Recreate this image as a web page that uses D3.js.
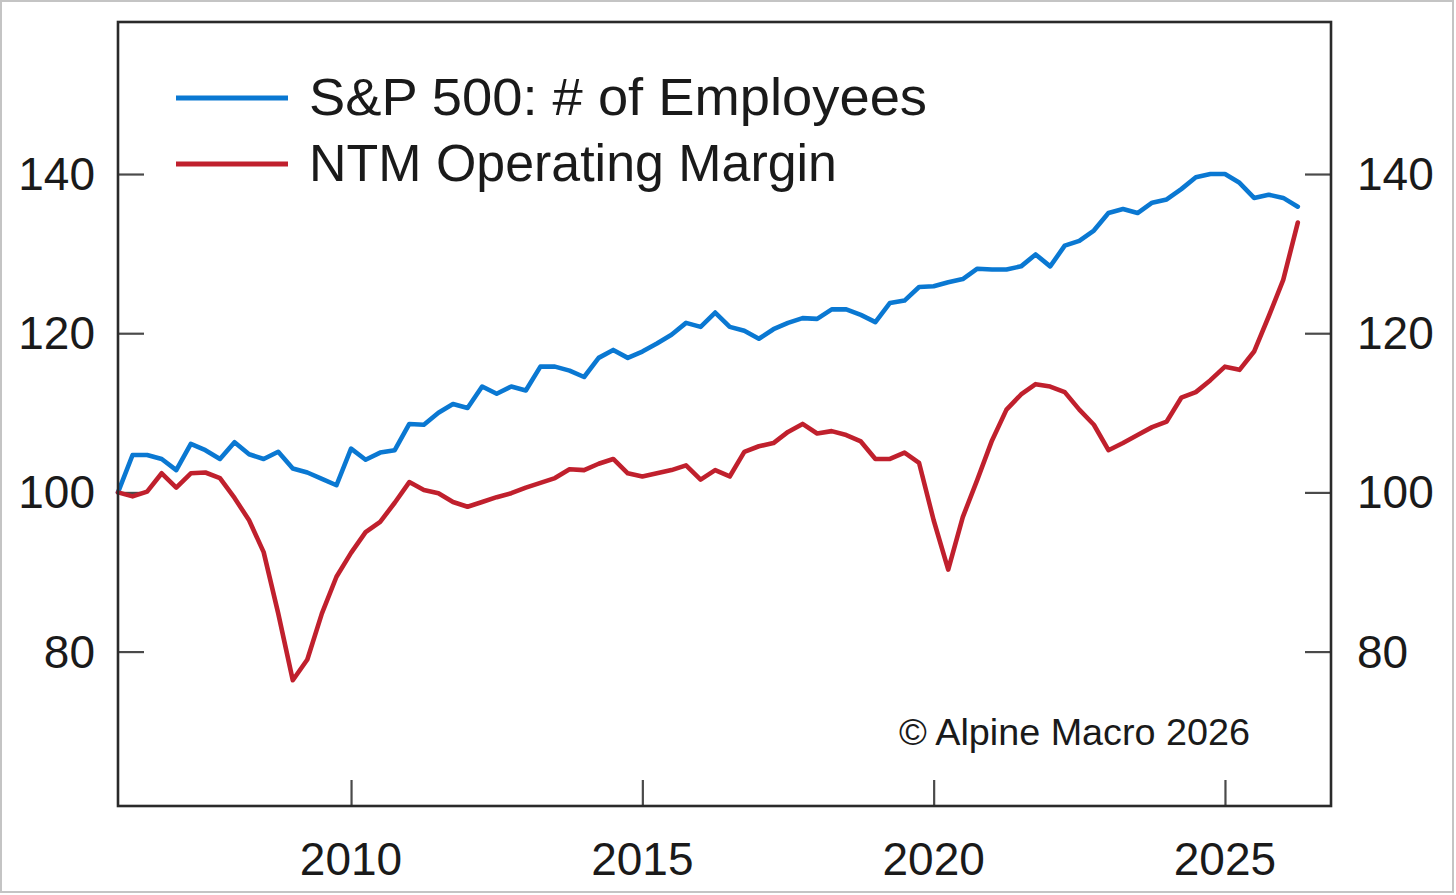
<!DOCTYPE html>
<html>
<head>
<meta charset="utf-8">
<script src="https://cdn.jsdelivr.net/npm/d3@7"></script>
<style>
  html, body { margin: 0; padding: 0; background: #fff; }
  svg { display: block; font-family: "Liberation Sans", Arial, sans-serif; }
</style>
</head>
<body>
<svg id="chart" width="1456" height="895"></svg>
<script>
// ---- Data (quarterly, first quarter of 2006 = 100) ----
const startYear = 2006;
const employees = [
  100, 104.7, 104.7, 104.2,
  102.8, 106.1, 105.3, 104.2,
  106.3, 104.8, 104.2, 105.1,
  103.0, 102.5, 101.7, 100.9,
  105.5, 104.1, 105.0, 105.3,
  108.6, 108.5, 110.0, 111.1,
  110.6, 113.3, 112.4, 113.3,
  112.8, 115.8, 115.8, 115.3,
  114.5, 116.9, 117.9, 116.9,
  117.7, 118.7, 119.8, 121.3,
  120.8, 122.6, 120.8, 120.3,
  119.3, 120.5, 121.3, 121.9,
  121.8, 123.0, 123.0, 122.3,
  121.4, 123.8, 124.1, 125.8,
  125.9, 126.4, 126.8, 128.1,
  128.0, 128.0, 128.4, 129.9,
  128.4, 131.0, 131.6, 132.9,
  135.1, 135.6, 135.1, 136.4,
  136.8, 138.1, 139.6, 140.0,
  140.0, 138.9, 137.0, 137.4,
  137.0, 135.9
];
const margin = [
  100, 99.5, 100.1, 102.4,
  100.6, 102.4, 102.5, 101.8,
  99.3, 96.5, 92.5, 84.8,
  76.4, 79.0, 84.8, 89.4,
  92.4, 95.0, 96.3, 98.7,
  101.3, 100.3, 99.9, 98.8,
  98.2, 98.8, 99.4, 99.9,
  100.6, 101.2, 101.8, 102.9,
  102.8, 103.6, 104.2, 102.4,
  102.0, 102.4, 102.8, 103.4,
  101.6, 102.8, 102.0, 105.1,
  105.8, 106.2, 107.6, 108.6,
  107.4, 107.7, 107.2, 106.4,
  104.2, 104.2, 105.0, 103.7,
  96.5, 90.3, 96.9, 101.6,
  106.5, 110.4, 112.3, 113.6,
  113.3, 112.6, 110.4, 108.5,
  105.3, 106.2, 107.2, 108.2,
  108.9, 111.9, 112.6, 114.1,
  115.8, 115.4, 117.7, 122.1,
  126.7, 133.9
];
const seriesNames = ["S&P 500: # of Employees", "NTM Operating Margin"];
const seriesColors = ["#0a78d2", "#c0202d"];
const yTicks = [80, 100, 120, 140];
const xTicks = [2010, 2015, 2020, 2025];
const credit = "\u00A9 Alpine Macro 2026";

// quarter time positions (fractional year)
const quarterTimes = employees.map((_, i) => startYear + i / 4);

// ---- Layout ----
const svg = d3.select("#chart");
const L = 118, R = 1331, T = 22, B = 806;

const x = d3.scaleLinear().domain([2006, 2026.82]).range([L, R]);
const y = d3.scaleLinear().domain([60.6, 159.1]).range([B, T]);

// outer image border
svg.append("rect").attr("x", 1).attr("y", 1).attr("width", 1452).attr("height", 891)
  .attr("fill", "none").attr("stroke", "#c4c4c4").attr("stroke-width", 2);

// ticks (inward)
const tickLen = 26;
const tickColor = "#4a4a4a";
const axL = d3.axisRight(y).tickValues(yTicks).tickSize(tickLen).tickFormat("");
const axR = d3.axisLeft(y).tickValues(yTicks).tickSize(tickLen).tickFormat("");
const axB = d3.axisTop(x).tickValues(xTicks).tickSize(tickLen).tickFormat("");

function styleAxis(g) {
  g.select(".domain").remove();
  g.selectAll(".tick line").attr("stroke", tickColor).attr("stroke-width", 2.2);
}
svg.append("g").attr("transform", `translate(${L},0)`).call(axL).call(styleAxis);
svg.append("g").attr("transform", `translate(${R},0)`).call(axR).call(styleAxis);
svg.append("g").attr("transform", `translate(0,${B})`).call(axB).call(styleAxis);

// tick labels
const labelSize = 46;
svg.append("g").selectAll("text").data(yTicks).join("text")
  .attr("x", 95).attr("y", d => y(d) + 16)
  .attr("text-anchor", "end").attr("font-size", labelSize).attr("fill", "#1a1a1a")
  .text(d => d);
svg.append("g").selectAll("text").data(yTicks).join("text")
  .attr("x", 1357).attr("y", d => y(d) + 16)
  .attr("text-anchor", "start").attr("font-size", labelSize).attr("fill", "#1a1a1a")
  .text(d => d);
svg.append("g").selectAll("text").data(xTicks).join("text")
  .attr("x", d => x(d)).attr("y", 875)
  .attr("text-anchor", "middle").attr("font-size", labelSize).attr("fill", "#1a1a1a")
  .text(d => d);

// lines
const line = d3.line().x(d => x(d[0])).y(d => y(d[1]));
[employees, margin].forEach((vals, k) => {
  svg.append("path")
    .datum(vals.map((v, i) => [quarterTimes[i], v]))
    .attr("d", line)
    .attr("fill", "none")
    .attr("stroke", seriesColors[k])
    .attr("stroke-width", 4.6)
    .attr("stroke-linejoin", "round")
    .attr("stroke-linecap", "round");
});

// frame
svg.append("rect").attr("x", L).attr("y", T).attr("width", R - L).attr("height", B - T)
  .attr("fill", "none").attr("stroke", "#2a2a2a").attr("stroke-width", 2.6);

// legend
const legY = [98, 164];
const legW = [618, 528];
const leg = svg.append("g");
seriesNames.forEach((name, k) => {
  leg.append("line").attr("x1", 176).attr("x2", 288).attr("y1", legY[k]).attr("y2", legY[k])
    .attr("stroke", seriesColors[k]).attr("stroke-width", 4.8);
  leg.append("text").attr("x", 309).attr("y", legY[k] + 17)
    .attr("font-size", 51).attr("fill", "#1a1a1a")
    .attr("textLength", legW[k]).attr("lengthAdjust", "spacingAndGlyphs")
    .text(name);
});

// credit
svg.append("text").attr("x", 899).attr("y", 745)
  .attr("font-size", 37).attr("fill", "#1a1a1a")
  .attr("textLength", 351).attr("lengthAdjust", "spacingAndGlyphs")
  .text(credit);
</script>
</body>
</html>
